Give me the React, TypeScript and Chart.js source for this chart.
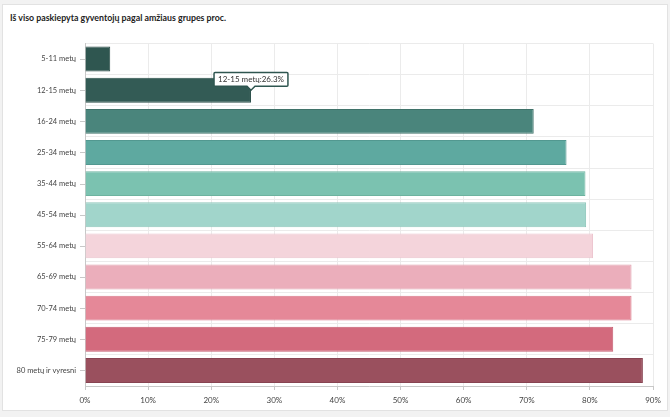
import React, { useEffect, useRef } from "react";
import { Chart, registerables } from "chart.js";

Chart.register(...registerables);

const categories = [
  "5-11 metų",
  "12-15 metų",
  "16-24 metų",
  "25-34 metų",
  "35-44 metų",
  "45-54 metų",
  "55-64 metų",
  "65-69 metų",
  "70-74 metų",
  "75-79 metų",
  "80 metų ir vyresni",
];

const values = [4.0, 26.3, 71.1, 76.3, 79.3, 79.4, 80.5, 86.6, 86.6, 83.7, 88.4];

const barColors = [
  "#2f5650",
  "#335b55",
  "#4a857c",
  "#5ea9a0",
  "#7bc2b0",
  "#a1d5cb",
  "#f4d4db",
  "#ebaebb",
  "#e58898",
  "#d36a7d",
  "#9a505e",
];

const borderColors = [
  "#284a45",
  "#2b4f4a",
  "#3f7269",
  "#529890",
  "#6db39f",
  "#8ec6ba",
  "#ecc4cd",
  "#e09fad",
  "#d97a8b",
  "#c45d70",
  "#874452",
];

const xTicks = [0, 10, 20, 30, 40, 50, 60, 70, 80, 90];

const FONT = "Lato, 'Open Sans', sans-serif";

export default function App() {
  const ref = useRef<HTMLCanvasElement | null>(null);

  useEffect(() => {
    document.body.style.margin = "0";
    document.body.style.background = "#f2f2f2";
    const ctx = ref.current!.getContext("2d")!;
    const yTickMarks = {
      id: "yTickMarks",
      afterDraw(chart: any) {
        const y = chart.scales.y;
        const c = chart.ctx;
        c.save();
        c.strokeStyle = "#c8c8c8";
        c.lineWidth = 1;
        categories.forEach((_, i) => {
          const py = Math.round(y.getPixelForValue(i)) + 0.5;
          c.beginPath();
          c.moveTo(y.right - 5, py);
          c.lineTo(y.right, py);
          c.stroke();
        });
        c.restore();
      },
    };
    const chart = new Chart(ctx, {
      type: "bar",
      data: {
        labels: categories,
        datasets: [
          {
            data: values,
            backgroundColor: barColors,
            borderColor: borderColors,
            borderWidth: 1,
            categoryPercentage: 0.8,
            barPercentage: 1,
          },
        ],
      },
      plugins: [yTickMarks],
      options: {
        indexAxis: "y",
        animation: false,
        responsive: false,
        events: [],
        layout: { padding: { top: 13, right: 15, left: 0, bottom: 0 } },
        plugins: {
          legend: { display: false },
          title: { display: false },
          tooltip: {
            enabled: true,
            backgroundColor: "#ffffff",
            borderColor: "#2f5650",
            borderWidth: 1.5,
            bodyColor: "#333333",
            bodyFont: { family: FONT, size: 8 },
            displayColors: false,
            xAlign: "center",
            yAlign: "bottom",
            caretSize: 4,
            caretPadding: 0,
            cornerRadius: 1,
            padding: { top: 2, bottom: 2, left: 4, right: 4 },
            callbacks: {
              title: () => "",
              label: (item: any) => `${item.label}:${item.raw}%`,
            },
          },
        },
        scales: {
          x: {
            min: 0,
            max: 90,
            afterBuildTicks: (scale: any) => {
              scale.ticks = xTicks.map((v) => ({ value: v }));
            },
            afterFit: (scale: any) => {
              scale.height = 24;
            },
            grid: {
              color: "#ebebeb",
              tickLength: 4,
              tickColor: "#c8c8c8",
            },
            border: { color: "#c8c8c8" },
            ticks: {
              color: "#444",
              font: { family: FONT, size: 8 },
              padding: 6,
              maxRotation: 0,
              callback: (v: any) => `${v}%`,
            },
          },
          y: {
            afterFit: (scale: any) => {
              scale.width = 83;
            },
            grid: {
              color: "#ebebeb",
              drawTicks: false,
            },
            border: { color: "#c8c8c8" },
            ticks: {
              color: "#444",
              font: { family: FONT, size: 7.5 },
              padding: 9,
            },
          },
        },
      },
    } as any);
    chart.tooltip!.setActiveElements([{ datasetIndex: 0, index: 1 }], { x: 0, y: 0 });
    chart.update();
    return () => chart.destroy();
  }, []);

  return (
    <div style={{ position: "relative", width: 670, height: 417 }}>
      <div
        style={{
          position: "absolute",
          left: 2,
          top: 4,
          width: 664,
          height: 405,
          background: "#fff",
          border: "1px solid #e2e2e2",
        }}
      />
      <div
        style={{
          position: "absolute",
          left: 10,
          top: 12,
          fontFamily: FONT,
          fontWeight: 700,
          fontSize: 8.8,
          color: "#222",
        }}
      >
        Iš viso paskiepyta gyventojų pagal amžiaus grupes proc.
      </div>
      <canvas
        ref={ref}
        width={666}
        height={380}
        style={{ position: "absolute", left: 2, top: 30, width: 666, height: 380 }}
      />
    </div>
  );
}
